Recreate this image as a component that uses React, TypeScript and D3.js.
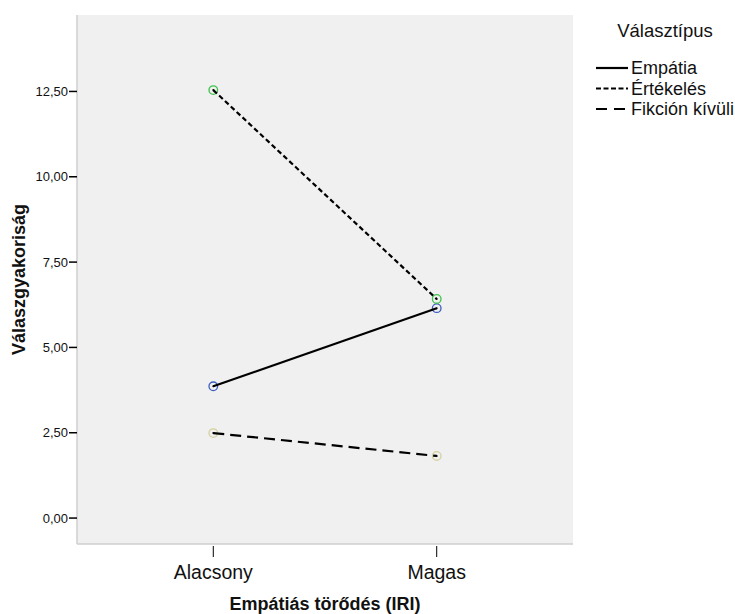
import React from "react";
import * as d3 from "d3";

const categories = ["Alacsony", "Magas"];
const seriesNames = ["Empátia", "Értékelés", "Fikción kívüli"];
const empatia = [3.86, 6.15];
const ertekeles = [12.54, 6.42];
const fikcion = [2.49, 1.82];
const yTicks = [0, 2.5, 5, 7.5, 10, 12.5];

const W = 735, H = 614;
const left = 77, right = 573, top = 15, bottom = 544;

export default function App() {
  const x = d3.scalePoint<string>().domain(categories).range([left, right]).padding(0.61);
  const y = d3.scaleLinear().domain([-0.76, 14.74]).range([bottom, top]);
  const series = [
    { name: seriesNames[0], values: empatia, dash: "none", color: "#3d5cc0" },
    { name: seriesNames[1], values: ertekeles, dash: "5,3", color: "#3ec24a" },
    { name: seriesNames[2], values: fikcion, dash: "11,6", color: "#d6cf9f" },
  ];
  const line = d3.line<number>().x((_, i) => x(categories[i])!).y((d) => y(d));
  const fmt = (v: number) => v.toFixed(2).replace(".", ",");
  return (
    <svg width={W} height={H} style={{ position: "absolute", left: 0, top: 0, fontFamily: "Arial, 'Liberation Sans', sans-serif" }}>
      <rect x={0} y={0} width={W} height={H} fill="#fff" />
      <rect x={left} y={top} width={right - left} height={bottom - top} fill="#f0f0f0" />
      <line x1={left} x2={left} y1={top} y2={bottom} stroke="#cfcfcf" strokeWidth={1.5} />
      <line x1={left} x2={right} y1={bottom} y2={bottom} stroke="#cfcfcf" strokeWidth={1.5} />
      {yTicks.map((t) => (
        <g key={t}>
          <line x1={left - 8} x2={left} y1={y(t)} y2={y(t)} stroke="#000" strokeWidth={1.5} />
          <text x={left - 9} y={y(t)} dy="0.35em" textAnchor="end" fontSize={13} fill="#111">{fmt(t)}</text>
        </g>
      ))}
      {categories.map((c) => (
        <g key={c}>
          <line x1={x(c)} x2={x(c)} y1={bottom + 2} y2={bottom + 13} stroke="#000" strokeWidth={1} />
          <text x={x(c)} y={579} textAnchor="middle" fontSize={19.5} fill="#111">{c}</text>
        </g>
      ))}
      <text x={(left + right) / 2} y={610} textAnchor="middle" fontSize={18} fontWeight="bold" fill="#111">Empátiás törődés (IRI)</text>
      <text transform={`translate(25,${(top + bottom) / 2}) rotate(-90)`} textAnchor="middle" fontSize={18} fontWeight="bold" fill="#111">Válaszgyakoriság</text>
      {series.map((s) => (
        <g key={s.name}>
          {s.values.map((v, i) => (
            <circle key={i} cx={x(categories[i])} cy={y(v)} r={4.3} fill="none" stroke={s.color} strokeWidth={1.3} />
          ))}
          <path d={line(s.values)!} fill="none" stroke="#000" strokeWidth={2.2} strokeDasharray={s.dash} />
          {s.values.map((v, i) => (
            <circle key={"d" + i} cx={x(categories[i])} cy={y(v)} r={1} fill="#000" />
          ))}
        </g>
      ))}
      <text x={665} y={37} textAnchor="middle" fontSize={18.5} fill="#111">Választípus</text>
      {series.map((s, i) => (
        <g key={"lg" + s.name}>
          <line x1={596} x2={628} y1={68 + i * 20.5} y2={68 + i * 20.5} stroke="#000" strokeWidth={2.2} strokeDasharray={s.dash === "none" ? "none" : s.dash === "5,3" ? "5,2.5" : "11,7"} />
          <text x={631} y={74 + i * 20.5} fontSize={18} fill="#111">{s.name}</text>
        </g>
      ))}
    </svg>
  );
}
